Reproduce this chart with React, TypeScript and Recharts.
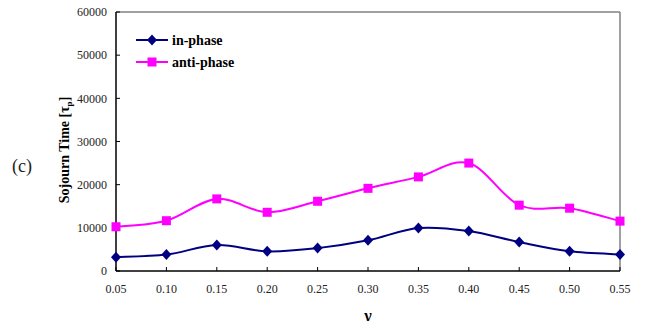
import React from "react";
import {
    LineChart,
    Line,
    XAxis,
    YAxis,
    ReferenceLine,
} from "recharts";

const gammas = [0.05, 0.1, 0.15, 0.2, 0.25, 0.3, 0.35, 0.4, 0.45, 0.5, 0.55];
const inPhase = [3200, 3800, 6000, 4550, 5300, 7100, 9950, 9250, 6700, 4550, 3850];
const antiPhase = [10250, 11650, 16700, 13600, 16150, 19150, 21800, 25000, 15250, 14550, 11550];
const yTicks = [0, 10000, 20000, 30000, 40000, 50000, 60000];

const data = gammas.map((g, i) => ({ g, inPhase: inPhase[i], antiPhase: antiPhase[i] }));

const NAVY = "#000080";
const MAGENTA = "#ff00ff";
const serif = "'Liberation Serif', 'Times New Roman', serif";

// Excel-like smoothing (Catmull-Rom as cubic bezier)
const excelCurve = (context: any) => {
    let pts: number[][] = [];
    return {
        areaStart() {},
        areaEnd() {},
        lineStart() {
            pts = [];
        },
        point(x: number, y: number) {
            pts.push([+x, +y]);
        },
        lineEnd() {
            if (!pts.length) return;
            context.moveTo(pts[0][0], pts[0][1]);
            for (let i = 0; i < pts.length - 1; i++) {
                const p0 = pts[Math.max(i - 1, 0)];
                const p1 = pts[i];
                const p2 = pts[i + 1];
                const p3 = pts[Math.min(i + 2, pts.length - 1)];
                context.bezierCurveTo(
                    p1[0] + (p2[0] - p0[0]) / 6,
                    p1[1] + (p2[1] - p0[1]) / 6,
                    p2[0] - (p3[0] - p1[0]) / 6,
                    p2[1] - (p3[1] - p1[1]) / 6,
                    p2[0],
                    p2[1]
                );
            }
        },
    };
};

const Diamond = (props: any) => {
    const { cx, cy, key } = props;
    if (cx == null || cy == null) return null;
    return (
        <polygon
            key={key}
            points={`${cx},${cy - 5.5} ${cx + 5},${cy} ${cx},${cy + 5.5} ${cx - 5},${cy}`}
            fill={NAVY}
        />
    );
};

const Square = (props: any) => {
    const { cx, cy, key } = props;
    if (cx == null || cy == null) return null;
    return <rect key={key} x={cx - 4.5} y={cy - 4.5} width={9} height={9} fill={MAGENTA} />;
};

// legend drawn as an overlay so it doesn't eat into the plot margins
const LegendBox = () => (
    <svg width={160} height={44} style={{ position: "absolute", left: 136, top: 31 }}>
        <line x1={0} y1={9} x2={32} y2={9} stroke={NAVY} strokeWidth={2} />
        <polygon points="16,3.5 21,9 16,14.5 11,9" fill={NAVY} />
        <text x={36} y={14} fontFamily={serif} fontWeight="bold" fontSize={14} fill="#000">
            in-phase
        </text>
        <line x1={0} y1={31} x2={32} y2={31} stroke={MAGENTA} strokeWidth={2} />
        <rect x={11.5} y={26.5} width={9} height={9} fill={MAGENTA} />
        <text x={36} y={36} fontFamily={serif} fontWeight="bold" fontSize={14} fill="#000">
            anti-phase
        </text>
    </svg>
);

const YLabel = () => (
    <text
        transform="translate(69,150) rotate(-90)"
        textAnchor="middle"
        fontFamily={serif}
        fontWeight="bold"
        fontSize={14}
        fill="#000"
    >
        Sojourn Time [τ<tspan fontSize={9} dy={3}>p</tspan>
        <tspan dy={-3}>]</tspan>
    </text>
);

export default function App() {
    return (
        <div style={{ position: "relative", width: 653, height: 329, margin: -8, background: "#fff" }}>
            <span
                style={{
                    position: "absolute",
                    left: 12,
                    top: 156,
                    fontFamily: serif,
                    fontSize: 18,
                    color: "#222",
                }}
            >
                (c)
            </span>
            <LineChart width={653} height={329} data={data} margin={{ top: 12, right: 33, bottom: 8, left: 56 }}>
                <XAxis
                    dataKey="g"
                    type="number"
                    domain={[0.05, 0.55]}
                    ticks={gammas}
                    tickFormatter={(v: number) => v.toFixed(2)}
                    height={50}
                    axisLine={{ stroke: "#000", strokeWidth: 1.5 }}
                    tickLine={{ stroke: "#000" }}
                    tickSize={-4}
                    tickMargin={17}
                    tick={{ fontFamily: serif, fontSize: 12, fill: "#222" }}
                    label={{
                        value: "γ",
                        position: "insideBottom",
                        offset: 0,
                        style: { fontFamily: serif, fontWeight: "bold", fontSize: 16, fill: "#000" },
                    }}
                />
                <YAxis
                    domain={[0, 60000]}
                    ticks={yTicks}
                    width={60}
                    axisLine={{ stroke: "#000", strokeWidth: 1.5 }}
                    tickLine={{ stroke: "#000" }}
                    tickSize={-4}
                    tickMargin={13}
                    tick={{ fontFamily: serif, fontSize: 12, fill: "#222" }}
                    label={<YLabel />}
                />
                <ReferenceLine y={60000} stroke="#808080" strokeWidth={1.5} />
                <ReferenceLine x={0.55} stroke="#808080" strokeWidth={1.5} />
                <Line
                    dataKey="inPhase"
                    name="in-phase"
                    type={excelCurve as any}
                    stroke={NAVY}
                    strokeWidth={2}
                    dot={<Diamond />}
                    isAnimationActive={false}
                />
                <Line
                    dataKey="antiPhase"
                    name="anti-phase"
                    type={excelCurve as any}
                    stroke={MAGENTA}
                    strokeWidth={2}
                    dot={<Square />}
                    isAnimationActive={false}
                />
            </LineChart>
            <LegendBox />
        </div>
    );
}
